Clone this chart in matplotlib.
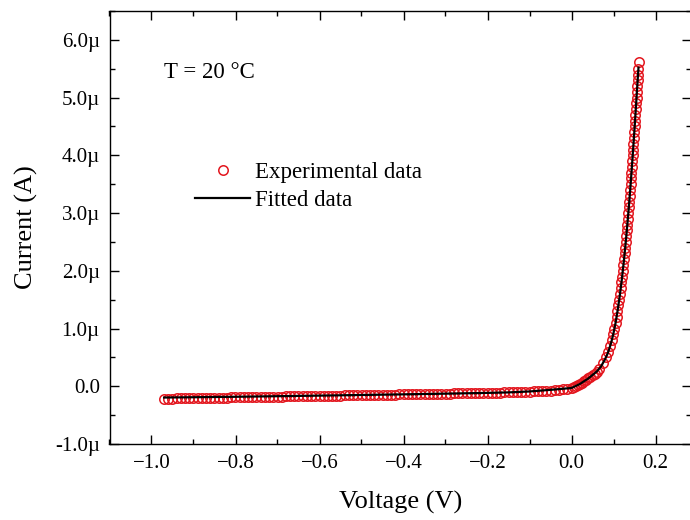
import matplotlib
matplotlib.use("Agg")
import numpy as np
import matplotlib.pyplot as plt
from matplotlib.ticker import MultipleLocator, FuncFormatter
from matplotlib.lines import Line2D

plt.rcParams['font.family'] = ['Liberation Serif', 'DejaVu Serif']
plt.rcParams['axes.unicode_minus'] = True

# experimental data, reverse/low bias part (V, current in uA)
v_low = [-0.97, -0.96, -0.95, -0.94, -0.93, -0.92, -0.91, -0.90, -0.89, -0.88,
         -0.87, -0.86, -0.85, -0.84, -0.83, -0.82, -0.81, -0.80, -0.79, -0.78,
         -0.77, -0.76, -0.75, -0.74, -0.73, -0.72, -0.71, -0.70, -0.69, -0.68,
         -0.67, -0.66, -0.65, -0.64, -0.63, -0.62, -0.61, -0.60, -0.59, -0.58,
         -0.57, -0.56, -0.55, -0.54, -0.53, -0.52, -0.51, -0.50, -0.49, -0.48,
         -0.47, -0.46, -0.45, -0.44, -0.43, -0.42, -0.41, -0.40, -0.39, -0.38,
         -0.37, -0.36, -0.35, -0.34, -0.33, -0.32, -0.31, -0.30, -0.29, -0.28,
         -0.27, -0.26, -0.25, -0.24, -0.23, -0.22, -0.21, -0.20, -0.19, -0.18,
         -0.17, -0.16, -0.15, -0.14, -0.13, -0.12, -0.11, -0.10, -0.09, -0.08,
         -0.07, -0.06, -0.05, -0.04, -0.03, -0.02, -0.01,
         0.000, 0.005, 0.010, 0.015, 0.020, 0.025, 0.030, 0.035, 0.040, 0.045,
         0.050, 0.055, 0.060]
i_low = [-0.215, -0.214, -0.212, -0.211, -0.210, -0.208, -0.207, -0.206, -0.204, -0.203,
         -0.202, -0.201, -0.199, -0.198, -0.197, -0.195, -0.194, -0.193, -0.191, -0.190,
         -0.189, -0.188, -0.186, -0.185, -0.184, -0.182, -0.181, -0.180, -0.178, -0.177,
         -0.176, -0.175, -0.173, -0.172, -0.171, -0.169, -0.168, -0.167, -0.165, -0.164,
         -0.163, -0.162, -0.160, -0.159, -0.158, -0.156, -0.155, -0.154, -0.152, -0.151,
         -0.150, -0.149, -0.147, -0.146, -0.145, -0.143, -0.142, -0.141, -0.139, -0.138,
         -0.137, -0.136, -0.134, -0.133, -0.132, -0.130, -0.129, -0.128, -0.126, -0.125,
         -0.124, -0.123, -0.121, -0.120, -0.119, -0.117, -0.116, -0.114, -0.112, -0.110,
         -0.108, -0.106, -0.104, -0.102, -0.100, -0.098, -0.095, -0.092, -0.089, -0.086,
         -0.083, -0.080, -0.076, -0.071, -0.064, -0.056, -0.044,
         -0.030, -0.015, 0.000, 0.020, 0.040, 0.060, 0.085, 0.110, 0.135, 0.160,
         0.190, 0.220, 0.255]

# experimental data, forward knee (V, current in uA)
v_knee = [0.0656, 0.0746, 0.0819, 0.0875, 0.0921, 0.0960, 0.0993, 0.1022, 0.1050, 0.1073,
          0.1095, 0.1116, 0.1136, 0.1155, 0.1172, 0.1190, 0.1206, 0.1221, 0.1236, 0.1251,
          0.1265, 0.1278, 0.1292, 0.1305, 0.1317, 0.1329, 0.1341, 0.1353, 0.1364, 0.1376,
          0.1387, 0.1398, 0.1408, 0.1418, 0.1428, 0.1438, 0.1448, 0.1458, 0.1467, 0.1476,
          0.1486, 0.1495, 0.1504, 0.1513, 0.1522, 0.1531, 0.1539, 0.1548, 0.1557, 0.1565,
          0.1573, 0.1582, 0.1590, 0.1600]
i_knee = [0.30, 0.40, 0.50, 0.60, 0.70, 0.80, 0.90, 1.00, 1.10, 1.20,
          1.30, 1.40, 1.50, 1.60, 1.70, 1.80, 1.90, 2.00, 2.10, 2.20,
          2.30, 2.40, 2.50, 2.60, 2.70, 2.80, 2.90, 3.00, 3.10, 3.20,
          3.30, 3.40, 3.50, 3.60, 3.70, 3.80, 3.90, 4.00, 4.10, 4.20,
          4.30, 4.40, 4.50, 4.60, 4.70, 4.80, 4.90, 5.00, 5.10, 5.20,
          5.30, 5.40, 5.50, 5.62]

# fitted curve (V, current in uA)
v_fit = [-0.97, -0.9, -0.8, -0.7, -0.6, -0.5, -0.4, -0.3, -0.2, -0.15, -0.1, -0.05,
         0.0, 0.02, 0.04, 0.06, 0.07, 0.08, 0.085, 0.09, 0.095, 0.10, 0.105, 0.11,
         0.115, 0.12, 0.125, 0.13, 0.135, 0.14, 0.145, 0.15, 0.155, 0.1595]
i_fit = [-0.195, -0.19, -0.182, -0.172, -0.162, -0.151, -0.140, -0.128, -0.115, -0.106, -0.090, -0.062,
         -0.030, 0.04, 0.135, 0.255, 0.34, 0.47, 0.55, 0.65, 0.77, 0.92, 1.10, 1.32,
         1.57, 1.86, 2.19, 2.56, 2.97, 3.42, 3.92, 4.45, 5.02, 5.52]

v_exp = np.array(v_low + v_knee)
i_exp = np.array(i_low + i_knee) * 1e-6

fig = plt.figure(figsize=(6.9, 5.2), dpi=100)
ax = fig.add_axes([109.5 / 690, 1 - 444 / 520, 581.7 / 690, 433 / 520])

ax.plot(v_exp, i_exp, 'o', mfc='none', mec='#e3161e', ms=6.8, mew=1.1, zorder=2)
ax.plot(v_fit, np.array(i_fit) * 1e-6, '-', color='black', lw=1.6, zorder=3)

ax.set_xlim(-1.1, 0.285)
ax.set_ylim(-1.0e-6, 6.5e-6)
ax.xaxis.set_major_locator(MultipleLocator(0.2))
ax.xaxis.set_minor_locator(MultipleLocator(0.1))
ax.yaxis.set_major_locator(MultipleLocator(1e-6))
ax.yaxis.set_minor_locator(MultipleLocator(0.5e-6))


def fmt_y(v, pos):
    if abs(v) < 1e-12:
        return '0.0'
    return '%.1f\u00b5' % (v * 1e6)


ax.yaxis.set_major_formatter(FuncFormatter(fmt_y))
ax.xaxis.set_major_formatter(FuncFormatter(lambda v, p: ('%.1f' % v).replace('-', '\u2212')))

ax.tick_params(which='both', direction='in', top=True, right=True, width=1.0, labelsize=15)
ax.tick_params(which='major', length=6.5, pad=7)
ax.tick_params(which='minor', length=3.5)
for s in ax.spines.values():
    s.set_linewidth(1.0)

ax.set_xlabel('Voltage (V)', fontsize=19, labelpad=13)
ax.set_ylabel('Current (A)', fontsize=19, labelpad=12)

ax.text(0.093, 0.857, 'T = 20 \u00b0C', transform=ax.transAxes, fontsize=16.5, va='center')

handles = [Line2D([], [], ls='none', marker='o', mfc='none', mec='#e3161e', ms=6.8, mew=1.1),
           Line2D([], [], color='black', lw=1.6)]
ax.legend(handles, ['Experimental data', 'Fitted data'], frameon=False, fontsize=16.5,
          loc='upper left', bbox_to_anchor=(0.147, 0.651), handlelength=2.4,
          handletextpad=0.22, labelspacing=0.31, borderpad=0, borderaxespad=0)

fig.savefig('out.png', dpi=100)
